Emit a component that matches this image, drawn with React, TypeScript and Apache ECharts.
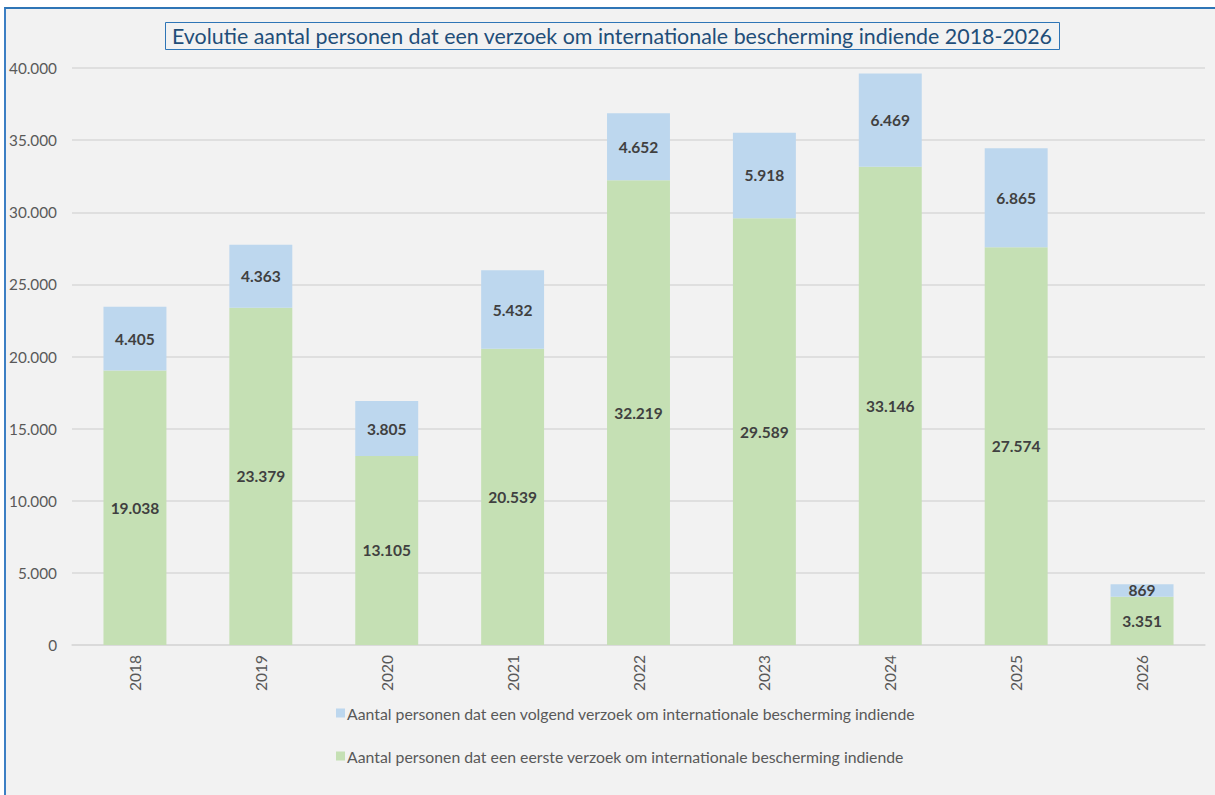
import React, { useEffect, useRef } from "react";
import * as echarts from "echarts";

const categories = ["2018", "2019", "2020", "2021", "2022", "2023", "2024", "2025", "2026"];
const eersteVerzoek = [19038, 23379, 13105, 20539, 32219, 29589, 33146, 27574, 3351];
const volgendVerzoek = [4405, 4363, 3805, 5432, 4652, 5918, 6469, 6865, 869];
const yTicks = [0, 5000, 10000, 15000, 20000, 25000, 30000, 35000, 40000];

const titleText = "Evolutie aantal personen dat een verzoek om internationale bescherming indiende 2018-2026";
const nameVolgend = "Aantal personen dat een volgend verzoek om internationale bescherming indiende";
const nameEerste = "Aantal personen dat een eerste verzoek om internationale bescherming indiende";

const fmt = (v: number) => String(v).replace(/\B(?=(\d{3})+(?!\d))/g, ".");
const FONT = "Lato, 'Noto Sans', sans-serif";

export default function App() {
  const ref = useRef<HTMLDivElement>(null);
  useEffect(() => {
    if (!ref.current) return;
    const chart = echarts.init(ref.current, null, { renderer: "svg" });
    const labelStyle = {
      show: true,
      position: "inside",
      color: "#404040",
      fontWeight: "bold",
      fontSize: 15.5,
      fontFamily: FONT,
      formatter: (p: any) => fmt(p.value),
    };
    chart.setOption({
      animation: false,
      backgroundColor: "#f2f2f2",
      textStyle: { fontFamily: FONT },
      title: {
        text: titleText,
        left: 159,
        top: 13,
        padding: [3, 7, 4, 7],
        borderColor: "#2e75b6",
        borderWidth: 1,
        textStyle: { fontFamily: FONT, fontSize: 21.4, fontWeight: "normal", color: "#1f4e79" },
      },
      legend: {
        orient: "vertical",
        left: 325,
        top: 691,
        itemGap: 27,
        itemWidth: 9,
        itemHeight: 9,
        icon: "rect",
        textStyle: { fontFamily: FONT, fontSize: 15.8, color: "#595959", padding: [0, 0, 0, -3] },
        data: [nameVolgend, nameEerste],
      },
      grid: { left: 66, right: 10, top: 59, bottom: 150 },
      xAxis: {
        type: "category",
        data: categories,
        axisLine: { lineStyle: { color: "#d9d9d9", width: 1.5 } },
        axisTick: { show: false },
        axisLabel: { rotate: 90, color: "#595959", fontSize: 15.5, margin: 10, fontFamily: FONT },
      },
      yAxis: {
        type: "value",
        min: yTicks[0],
        max: yTicks[yTicks.length - 1],
        interval: 5000,
        axisLine: { show: false },
        axisTick: { show: false },
        splitLine: { lineStyle: { color: "#d9d9d9", width: 1.5 } },
        axisLabel: { color: "#595959", fontSize: 15.3, margin: 15, fontFamily: FONT, formatter: (v: number) => fmt(v) },
      },
      series: [
        {
          name: nameEerste,
          type: "bar",
          stack: "total",
          data: eersteVerzoek,
          barCategoryGap: "50%",
          itemStyle: { color: "#c5e0b4" },
          label: labelStyle,
        },
        {
          name: nameVolgend,
          type: "bar",
          stack: "total",
          data: volgendVerzoek,
          barCategoryGap: "50%",
          itemStyle: { color: "#bdd7ee" },
          label: labelStyle,
        },
      ],
    });
    return () => chart.dispose();
  }, []);
  return (
    <div
      style={{
        position: "fixed",
        left: 4,
        top: 7,
        width: 1211,
        height: 788,
        boxSizing: "border-box",
        borderTop: "2px solid #2e75b6",
        borderLeft: "2px solid #3c7fc4",
        background: "#f2f2f2",
      }}
    >
      <div ref={ref} style={{ width: 1209, height: 786 }} />
    </div>
  );
}
